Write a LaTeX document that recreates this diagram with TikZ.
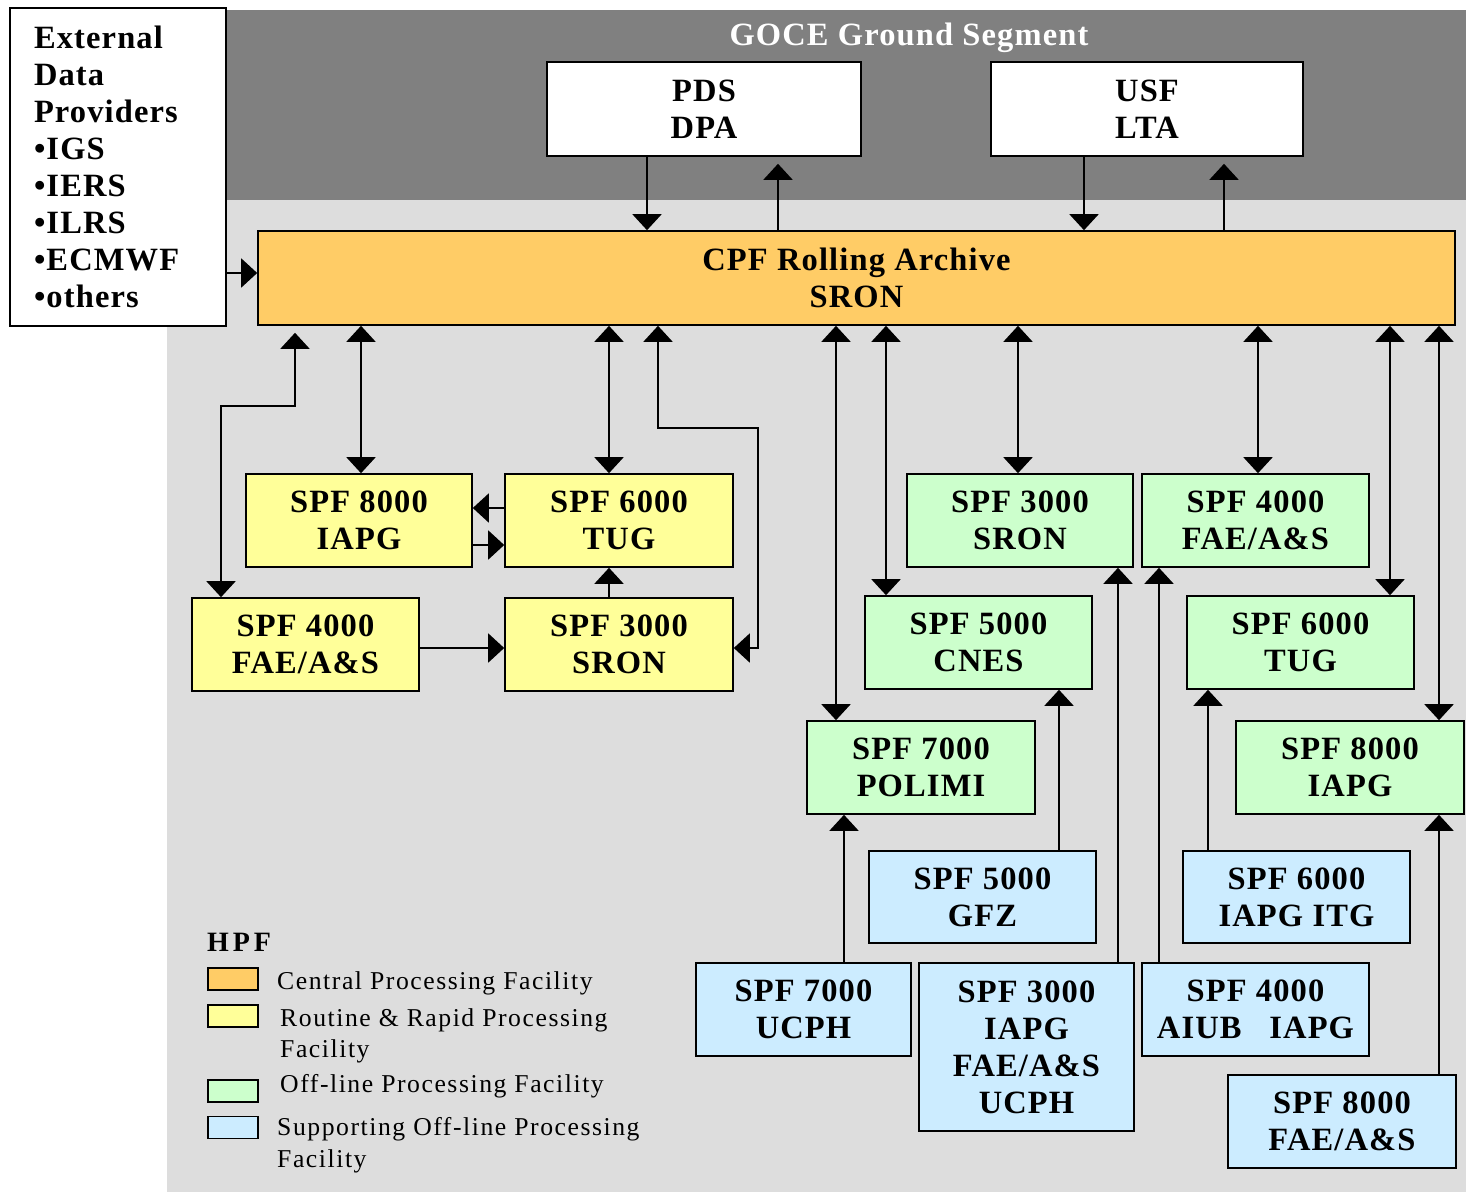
\documentclass[tikz,border=0pt]{standalone}
\usepackage{fontspec}
\setmainfont{Liberation Serif}
\newfontfamily\boxfont{Liberation Serif}[LetterSpace=3.5]
\newfontfamily\legfont{Liberation Serif}[LetterSpace=6]
\newfontfamily\hpffont{Liberation Serif}[LetterSpace=14]
\usetikzlibrary{arrows.meta}
\definecolor{dgray}{HTML}{808080}
\definecolor{lgray}{HTML}{DDDDDD}
\definecolor{cpfcol}{HTML}{FFCC66}
\definecolor{rrcol}{HTML}{FFFF99}
\definecolor{offcol}{HTML}{CCFFCC}
\definecolor{supcol}{HTML}{CCECFF}
\newcommand\bxfont{\boxfont\bfseries\fontsize{32.5}{37}\selectfont}
\tikzset{
  fbox/.style={draw=black, line width=1.6pt, align=center, inner sep=0pt, font=\bxfont},
  wbox/.style={fbox, fill=white, minimum width=#1, minimum height=94pt},
  cpfbox/.style={fbox, fill=cpfcol},
  rrbox/.style={fbox, fill=rrcol, minimum width=227pt, minimum height=93pt},
  offbox/.style={fbox, fill=offcol, minimum width=227pt, minimum height=93pt},
  supbox/.style={fbox, fill=supcol, minimum width=227pt, minimum height=93pt},
  swatch/.style={draw=black, line width=1.2pt, minimum width=50pt, minimum height=22pt, inner sep=0pt},
  leg/.style={anchor=base west, inner sep=0pt, font=\legfont\fontsize{25.7}{31}\selectfont},
  conn/.style={line width=1.8pt, >={Triangle[width=29pt,length=16pt]}},
}
\begin{document}
\begin{tikzpicture}[x=1pt,y=-1pt]
\useasboundingbox (0,0) rectangle (1466,1192);
\fill[dgray] (167,10) rectangle (1466,200);
\fill[lgray] (167,200) rectangle (1466,1192);

\node[font=\bxfont, text=white, anchor=base, inner sep=0pt] (title) at (909,45) {GOCE Ground Segment};

% boxes
\node[fbox, fill=white, minimum width=216pt, minimum height=318pt, text width=168pt, align=left, inner xsep=24pt] (ext) at (118,167)
  {External\\Data\\Providers\\•IGS\\•IERS\\•ILRS\\•ECMWF\\•others};
\node[wbox=314pt] (pds) at (704,109) {PDS\\DPA};
\node[wbox=312pt] (usf) at (1147,109) {USF\\LTA};
\node[cpfbox, minimum width=1197pt, minimum height=94pt] (cpf) at (856.5,278) {CPF Rolling Archive\\SRON};

\node[rrbox, minimum width=226pt] (y8000) at (359,520.5) {SPF 8000\\IAPG};
\node[rrbox, minimum width=228pt] (y6000) at (619,520.5) {SPF 6000\\TUG};
\node[rrbox] (y4000) at (305.5,644.5) {SPF 4000\\FAE/A\&S};
\node[rrbox, minimum width=228pt] (y3000) at (619,644.5) {SPF 3000\\SRON};

\node[offbox, minimum width=226pt] (g3000) at (1020,520.5) {SPF 3000\\SRON};
\node[offbox] (g4000) at (1255.5,520.5) {SPF 4000\\FAE/A\&S};
\node[offbox] (g5000) at (978.5,642.5) {SPF 5000\\CNES};
\node[offbox] (g6000) at (1300.5,642.5) {SPF 6000\\TUG};
\node[offbox, minimum width=228pt] (g7000) at (921,767.5) {SPF 7000\\POLIMI};
\node[offbox, minimum width=228pt] (g8000) at (1350,767.5) {SPF 8000\\IAPG};

\node[supbox, minimum height=92pt] (b5000) at (982.5,897) {SPF 5000\\GFZ};
\node[supbox, minimum height=92pt] (b6000) at (1296.5,897) {SPF 6000\\IAPG ITG};
\node[supbox, minimum width=215pt] (b7000) at (803.5,1009.5) {SPF 7000\\UCPH};
\node[supbox, minimum width=215pt, minimum height=168pt] (b3000) at (1026.5,1047) {SPF 3000\\IAPG\\FAE/A\&S\\UCPH};
\node[supbox] (b4000) at (1255.5,1009.5) {SPF 4000\\AIUB\ \ \ IAPG};
\node[supbox, minimum width=228pt] (b8000) at (1342,1121.5) {SPF 8000\\FAE/A\&S};

% connectors top
\draw[conn,->] (pds.south -| 647,0) -- (cpf.north -| 647,0);
\draw[conn,->] (cpf.north -| 778,0) -- ([yshift=-7pt]pds.south -| 778,0);
\draw[conn,->] (usf.south -| 1084,0) -- (cpf.north -| 1084,0);
\draw[conn,->] (cpf.north -| 1224,0) -- ([yshift=-7pt]usf.south -| 1224,0);
\draw[conn,->] (ext.east |- 0,273) -- (cpf.west |- 0,273);

% CPF to facilities
\draw[conn,<->] (cpf.south -| 361,0) -- (y8000.north -| 361,0);
\draw[conn,<->] (cpf.south -| 609,0) -- (y6000.north -| 609,0);
\draw[conn,<->] (cpf.south -| 836,0) -- (g7000.north -| 836,0);
\draw[conn,<->] (cpf.south -| 886,0) -- (g5000.north -| 886,0);
\draw[conn,<->] (cpf.south -| 1018,0) -- (g3000.north -| 1018,0);
\draw[conn,<->] (cpf.south -| 1258,0) -- (g4000.north -| 1258,0);
\draw[conn,<->] (cpf.south -| 1390,0) -- (g6000.north -| 1390,0);
\draw[conn,<->] (cpf.south -| 1439,0) -- (g8000.north -| 1439,0);
\coordinate (k1) at (295,406);
\draw[conn,<->,shorten <=7pt] (cpf.south -| k1) -- (k1) -| (y4000.north -| 221,0);
\coordinate (k2) at (658,428);
\coordinate (k3) at (758,428);
\draw[conn,<->] (cpf.south -| k2) -- (k2) -- (k3) |- (y3000.east |- 0,648);

% within yellow group
\draw[conn,->] (y6000.west |- 0,508) -- (y8000.east |- 0,508);
\draw[conn,->] (y8000.east |- 0,545) -- (y6000.west |- 0,545);
\draw[conn,->] (y3000.north -| 609,0) -- (y6000.south -| 609,0);
\draw[conn,->] (y4000.east |- 0,648) -- (y3000.west |- 0,648);

% supporting to off-line
\draw[conn,->] (b7000.north -| 844,0) -- (g7000.south -| 844,0);
\draw[conn,->] (b5000.north -| 1059,0) -- (g5000.south -| 1059,0);
\draw[conn,->] (b3000.north -| 1118,0) -- (g3000.south -| 1118,0);
\draw[conn,->] (b4000.north -| 1159,0) -- (g4000.south -| 1159,0);
\draw[conn,->] (b6000.north -| 1208,0) -- (g6000.south -| 1208,0);
\draw[conn,->] (b8000.north -| 1439,0) -- (g8000.south -| 1439,0);

% legend
\node[anchor=base west, inner sep=0pt, font=\hpffont\bfseries\fontsize{28}{30}\selectfont] (hpf) at (207,951) {HPF};
\node[swatch, fill=cpfcol] (s1) at (233,979) {};
\node[swatch, fill=rrcol] (s2) at (233,1016) {};
\node[swatch, fill=offcol] (s3) at (233,1091) {};
\node[swatch, fill=supcol] (s4) at (233,1127.5) {};
\node[leg] (l1) at (277,989) {Central Processing Facility};
\node[leg] (l2a) at (280,1026) {Routine \& Rapid Processing};
\node[leg] (l2b) at (280,1057) {Facility};
\node[leg] (l3) at (280,1092) {Off-line Processing Facility};
\node[leg] (l4a) at (277,1135) {Supporting Off-line Processing};
\node[leg] (l4b) at (277,1167) {Facility};
\end{tikzpicture}
\end{document}
